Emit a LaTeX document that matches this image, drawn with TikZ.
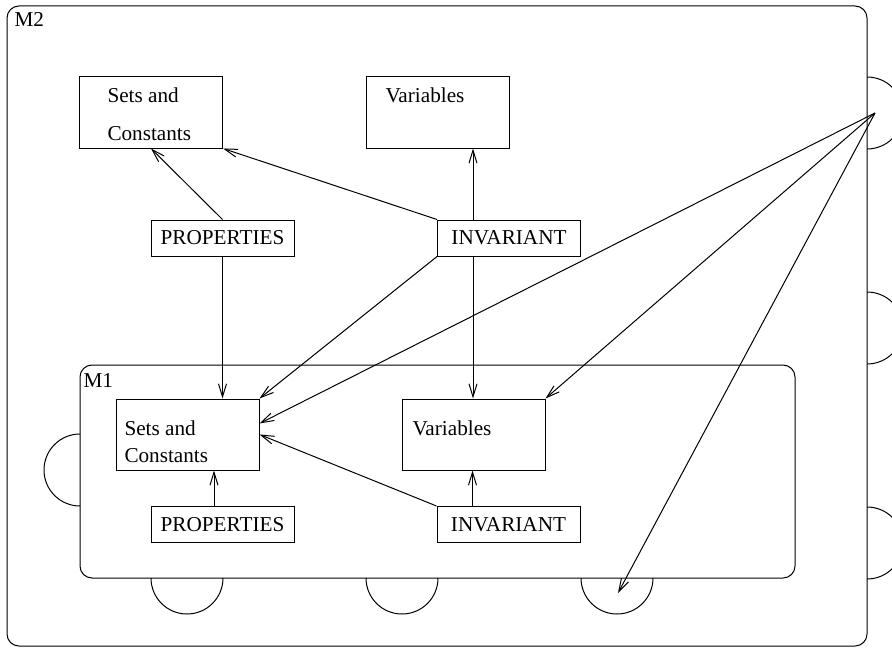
\documentclass[tikz,border=0pt]{standalone}
\usepackage{fontspec}
\setmainfont{Liberation Serif}
\usetikzlibrary{arrows.meta}

\begin{document}
\begin{tikzpicture}[
    x=0.5pt, y=-0.5pt,
    font=\fontsize{10.6}{13}\selectfont,
    line width=0.5pt,
    frame/.style = {draw, rounded corners=6pt, inner sep=0pt},
    part/.style = {draw, minimum width=71.5pt, minimum height=35.5pt,
                  inner sep=0pt, node contents={}},
    tag/.style = {draw, minimum width=71.5pt, minimum height=18pt, inner sep=0pt},
    txt/.style = {anchor=base west, inner sep=0pt},
    every edge/.style = {draw, -{Straight Barb[length=6.5pt, width=4pt]}}
  ]
  \useasboundingbox (0,0) rectangle (892,647);
  \clip (0,0) rectangle (892,647);

  \node (m2) at (437,326) [frame, minimum width=430pt, minimum height=320pt] {};
  \node (m1) at (437.5,471.5) [frame, minimum width=357.5pt, minimum height=106.5pt] {};
  \node (m2t) at (14,27) [txt] {M2};
  \node (m1t) at (83,387) [txt] {M1};

  %
  \foreach \y in {77,292,507}
    \draw (867,\y) arc[start angle=90, end angle=-90, radius=18pt];
  \foreach \x in {151,366,581}
    \draw (\x,578) arc[start angle=180, end angle=360, radius=18pt];
  \draw (80,434) arc[start angle=90, end angle=270, radius=18pt];

  \node (sc2) at (151,112.5) [part];
  \node (var2) at (437.5,112.5) [part];
  \node (sc1) at (187.5,434.5) [part];
  \node (var1) at (473.5,434.5) [part];
  \node (prop2) at (222.5,238) [tag] {PROPERTIES};
  \node (inv2) at (509,238) [tag] {INVARIANT};
  \node (prop1) at (222.5,524.5) [tag] {PROPERTIES};
  \node (inv1) at (508.5,524.5) [tag] {INVARIANT};

  \node (sc2a) at (107,103) [txt] {Sets and};
  \node (sc2b) at (107,140) [txt] {Constants};
  \node (var2a) at (385,103) [txt] {Variables};
  \node (sc1a) at (124,435) [txt] {Sets and};
  \node (sc1b) at (124,462) [txt] {Constants};
  \node (var1a) at (412,435) [txt] {Variables};

  \coordinate (src) at (875,113);
  \coordinate (sink) at (618,593);
  \coordinate (inv2n) at ([xshift=18pt]inv2.north west);
  \coordinate (inv2s) at ([xshift=18pt]inv2.south west);
  \coordinate (inv1n) at ([xshift=18pt]inv1.north west);
  \coordinate (prop1n) at ([xshift=-4.25pt]prop1.north);

  %
  \path   (prop2.north) edge (sc2.south)
          (inv2.north west) edge (sc2.south east)
          (inv2n) edge (inv2n |- var2.south)
          (prop2.south) edge (prop2.south |- sc1.north)
          (inv2.south west) edge (sc1.north east)
          (inv2s) edge (inv2s |- var1.north)
          (src) edge ([yshift=5.5pt]sc1.east)
          (src) edge (var1.north east)
          (src) edge (sink)
          (inv1.north west) edge (sc1.east)
          (inv1n) edge (inv1n |- var1.south)
          (prop1n) edge (prop1n |- sc1.south);
\end{tikzpicture}
\end{document}
